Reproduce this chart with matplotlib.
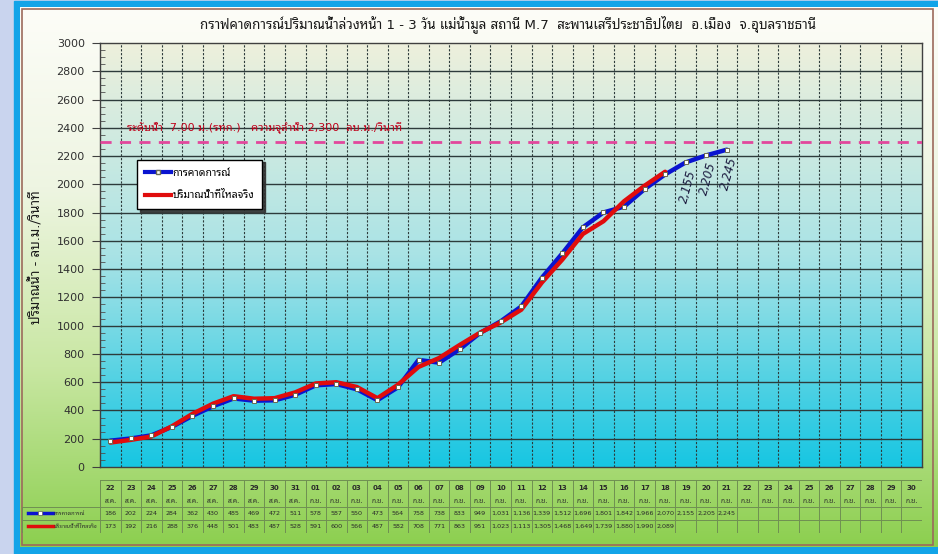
import numpy as np
import matplotlib
matplotlib.use("Agg")
import matplotlib.pyplot as plt
from matplotlib.patches import Rectangle
from matplotlib.lines import Line2D
from matplotlib.colors import LinearSegmentedColormap

plt.rcParams['font.family'] = ['DejaVu Sans', 'Noto Sans Thai Looped', 'Noto Sans Thai',
                               'Sarabun', 'Athiti']

# ---- data -------------------------------------------------------------
days = ['22', '23', '24', '25', '26', '27', '28', '29', '30', '31',
        '01', '02', '03', '04', '05', '06', '07', '08', '09', '10',
        '11', '12', '13', '14', '15', '16', '17', '18', '19', '20',
        '21', '22', '23', '24', '25', '26', '27', '28', '29', '30']
months = ['ส.ค.'] * 10 + ['ก.ย.'] * 30

forecast = [186, 202, 224, 284, 362, 430, 485, 469, 472, 511,
            578, 587, 550, 473, 564, 758, 738, 833, 949, 1031,
            1136, 1339, 1512, 1696, 1801, 1842, 1966, 2070, 2155, 2205,
            2245]
actual = [173, 192, 216, 288, 376, 448, 501, 483, 487, 528,
          591, 600, 566, 487, 582, 708, 771, 863, 951, 1023,
          1113, 1305, 1468, 1649, 1739, 1880, 1990, 2089]
labelled = [28, 29, 30]          # forecast points carrying a value label
capacity = 2300

title = 'กราฟคาดการณ์ปริมาณน้ำล่วงหน้า 1 - 3 วัน แม่น้ำมูล สถานี M.7  สะพานเสรีประชาธิปไตย  อ.เมือง  จ.อุบลราชธานี'
ylabel = 'ปริมาณน้ำ - ลบ.ม./วินาที'
cap_text = 'ระดับน้ำ  7.00 ม.(รทก.)   ความจุลำน้ำ 2,300  ลบ.ม./วินาที'
name_fc = 'การคาดการณ์'
name_ac = 'ปริมาณน้ำที่ไหลจริง'

W, H = 938, 554
fig = plt.figure(figsize=(W / 100, H / 100), dpi=100)
fig.patch.set_facecolor('#c9d4ee')

# ---- frame and chart-area background -------------------------------
bg = fig.add_axes([0, 0, 1, 1], zorder=-10)
bg.axis('off')
bg.add_patch(Rectangle((14, 1), 940, 570, color='#12a4e8'))
green = LinearSegmentedColormap.from_list('g', ['#fdfdf8', '#eef5e2', '#c9e7a3', '#8ccf4f'])
grad = np.linspace(0, 1, 256).reshape(-1, 1)
bg.imshow(grad, extent=(20, 950, 547, 7), cmap=green, aspect='auto', zorder=1)
bg.add_patch(Rectangle((22, 9), 911, 536, fill=False, ec='#9c6a5c', lw=1.2, zorder=2))
# imshow resets the limits, so fix them afterwards
bg.set_xlim(0, W)
bg.set_ylim(H, 0)

# ---- main plot -------------------------------------------------------
ax = fig.add_axes([100 / W, (H - 467) / H, 822 / W, 424 / H])
ax.patch.set_alpha(0)
ncol = len(days)
cyan = LinearSegmentedColormap.from_list('c', ['#eef0dc', '#a9e3e6', '#17c6e2'])
ax.imshow(grad, extent=(-0.5, ncol - 0.5, 0, 3000), cmap=cyan, aspect='auto', zorder=0)
ax.set_xlim(-0.5, ncol - 0.5)
ax.set_ylim(0, 3000)

ax.set_yticks(np.arange(0, 3001, 200))
ax.set_yticks(np.arange(0, 3001, 50), minor=True)
ax.set_xticks([])
ax.tick_params(axis='y', which='major', direction='out', length=6, labelsize=8,
               color='#404040', labelcolor='#303030', pad=5)
ax.tick_params(axis='y', which='minor', direction='in', length=3.5, color='#505050')
for sp in ax.spines.values():
    sp.set_color('#404040')
    sp.set_linewidth(1)
for y in np.arange(200, 3000, 200):
    ax.axhline(y, color='#2d3b3b', lw=1, zorder=1)
for i in range(ncol - 1):
    ax.axvline(i + 0.5, color='#2d3b3b', lw=0.8, ls=(0, (2, 1.5)), zorder=1)

ax.axhline(capacity, color='#e2479c', lw=2, ls=(0, (4, 3)), zorder=3)
ax.text(0.8, 2400, cap_text, color='#c0001a', fontsize=8, ha='left', va='center', zorder=3)

x_fc = np.arange(len(forecast))
x_ac = np.arange(len(actual))
ax.plot(x_fc, forecast, color='#0a14d0', lw=3.2, zorder=4, solid_capstyle='round')
ax.plot(x_ac, actual, color='#e00c0c', lw=3.2, zorder=5, solid_capstyle='round')
ax.plot(x_fc, forecast, ls='none', marker='s', ms=3.5, mfc='white', mec='#6a6a50',
        mew=0.7, zorder=6)

for i in labelled:
    ax.text(x_fc[i] + 0.1, forecast[i] - 40, '{:,}'.format(forecast[i]), rotation=75,
            ha='center', va='top', fontsize=8.5, style='italic', color='#1c1c40', zorder=6)

h_fc = Line2D([], [], color='#0a14d0', lw=3, marker='s', ms=3.5, mfc='white', mec='#6a6a50')
h_ac = Line2D([], [], color='#e00c0c', lw=3)
leg = ax.legend([h_fc, h_ac], [name_fc, name_ac], loc='upper left',
                bbox_to_anchor=(0.045, 0.725), fontsize=7.5, frameon=True, fancybox=False,
                shadow={'color': '#333333', 'alpha': 0.9}, labelspacing=1.2,
                handlelength=2.5, handletextpad=0.1, borderpad=0.8, borderaxespad=0)
leg.get_frame().set_edgecolor('black')
leg.get_frame().set_linewidth(1)
leg.set_zorder(7)

fig.text(508 / W, 1 - 24 / H, title, ha='center', va='center', fontsize=9.6, color='#1a1a1a')
fig.text(36 / W, 1 - 257 / H, ylabel, ha='center', va='center', rotation=90,
         fontsize=9.5, color='#1a1a1a')

# ---- data table under the plot -------------------------------------
colw = 822 / ncol
left_cols = 78 / colw
tab = fig.add_axes([22 / W, (H - 533) / H, 900 / W, 53 / H])
tab.set_xlim(-0.5 - left_cols, ncol - 0.5)
tab.set_ylim(4, 0)
tab.axis('off')
gc = '#6f8f52'
tc = '#2a2a2a'
for y in [0, 2, 3, 4]:
    tab.plot([-0.5, ncol - 0.5], [y, y], color=gc, lw=0.7)
for y in [2, 3, 4]:
    tab.plot([-0.5 - left_cols, -0.5], [y, y], color=gc, lw=0.7)
for i in range(ncol + 1):
    tab.plot([i - 0.5, i - 0.5], [0, 4], color=gc, lw=0.7)
tab.plot([-0.5 - left_cols] * 2, [2, 4], color=gc, lw=0.7)

for i in range(ncol):
    tab.text(i, 0.6, days[i], ha='center', va='center', fontsize=5, color=tc,
             fontweight='bold')
    tab.text(i, 1.55, months[i], ha='center', va='center', fontsize=4.8, color=tc)
for i, v in enumerate(forecast):
    tab.text(i, 2.5, '{:,}'.format(v), ha='center', va='center', fontsize=4.6, color=tc)
for i, v in enumerate(actual):
    tab.text(i, 3.5, '{:,}'.format(v), ha='center', va='center', fontsize=4.6, color=tc)

lx0 = -0.5 - left_cols + 0.3
tab.plot([lx0, lx0 + 1.2], [2.5, 2.5], color='#0a14d0', lw=2.5)
tab.plot([lx0 + 0.6], [2.5], marker='s', ms=2.5, mfc='white', mec='#6a6a50', mew=0.5)
tab.plot([lx0, lx0 + 1.2], [3.5, 3.5], color='#e00c0c', lw=2.5)
tab.text(lx0 + 1.25, 2.5, name_fc, ha='left', va='center', fontsize=4, color=tc)
tab.text(lx0 + 1.25, 3.5, name_ac, ha='left', va='center', fontsize=4, color=tc)

fig.savefig('out.png', dpi=100, facecolor=fig.get_facecolor())
